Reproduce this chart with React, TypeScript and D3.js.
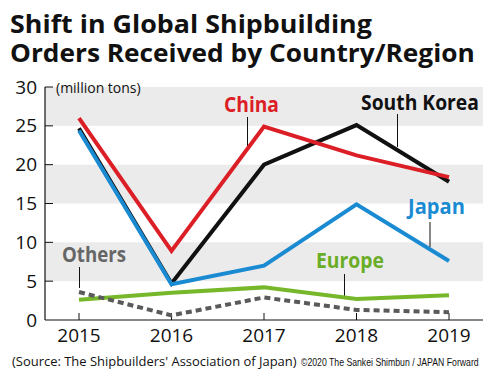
import React, { useLayoutEffect, useRef, useState } from "react";
import * as d3 from "d3";

const years = [2015, 2016, 2017, 2018, 2019];
const china = [26.0, 8.9, 24.9, 21.2, 18.4];
const southKorea = [24.7, 4.7, 20.0, 25.1, 17.8];
const japan = [24.4, 4.6, 7.0, 14.9, 7.6];
const europe = [2.6, 3.5, 4.2, 2.7, 3.2];
const others = [3.6, 0.6, 2.9, 1.3, 1.0];
const yTicks = [0, 5, 10, 15, 20, 25, 30];
const bands = [[5, 10], [15, 20], [25, 30]];

const W = 494;
const H = 377;

function FitText(props: {
  x: number;
  y: number;
  width: number;
  fontSize: number;
  fontFamily?: string;
  fontWeight?: number;
  fill: string;
  children: string;
}) {
  const ref = useRef<SVGTextElement>(null);
  const [sx, setSx] = useState(1);
  useLayoutEffect(() => {
    if (ref.current) {
      const w = ref.current.getComputedTextLength();
      if (w > 0) setSx(props.width / w);
    }
  }, [props.width, props.children]);
  return (
    <text
      ref={ref}
      transform={`translate(${props.x},${props.y}) scale(${sx},1)`}
      fontSize={props.fontSize}
      fontFamily={props.fontFamily}
      fontWeight={props.fontWeight}
      fill={props.fill}
    >
      {props.children}
    </text>
  );
}

export default function App() {
  const x = d3.scaleLinear().domain([2015, 2019]).range([79, 449]);
  const y = d3.scaleLinear().domain([0, 30]).range([320, 87]);
  const plotLeft = 45;
  const plotRight = 483;

  const line = d3
    .line<number>()
    .x((_, i) => x(years[i]))
    .y((d) => y(d));

  const series = [
    { name: "Europe", data: europe, color: "#76b82a", dash: undefined },
    { name: "Others", data: others, color: "#5a5a5a", dash: "6,4" },
    { name: "South Korea", data: southKorea, color: "#111111", dash: undefined },
    { name: "Japan", data: japan, color: "#1a8bd2", dash: undefined },
    { name: "China", data: china, color: "#dc1f26", dash: undefined },
  ];

  const labels = [
    { text: "China", x: 224, y: 112, len: 55, color: "#dc1f26", lx: 247.5, ly1: 117, ly2: 146 },
    { text: "South Korea", x: 361, y: 110, len: 118, color: "#111111", lx: 397.5, ly1: 114, ly2: 147 },
    { text: "Japan", x: 408, y: 214, len: 57, color: "#1a8bd2", lx: 430, ly1: 222, ly2: 247 },
    { text: "Europe", x: 316, y: 268, len: 68, color: "#6aad27", lx: 344.5, ly1: 274, ly2: 296 },
    { text: "Others", x: 62, y: 262, len: 64, color: "#666666", lx: 79.5, ly1: 267, ly2: 288 },
  ];

  const font = "'Open Sans', 'Noto Sans', sans-serif";

  return (
    <svg
      width={W}
      height={H}
      style={{ position: "absolute", left: 0, top: 0, background: "#fff" }}
      fontFamily={font}
    >
      <rect x={0} y={0} width={W} height={H} fill="#fff" />
      <FitText x={10} y={33} width={362} fontSize={25.5} fontWeight={700} fill="#111">
        Shift in Global Shipbuilding
      </FitText>
      <FitText x={10} y={62} width={465} fontSize={25.5} fontWeight={700} fill="#111">
        Orders Received by Country/Region
      </FitText>

      {bands.map(([a, b]) => (
        <rect key={a} x={plotLeft} y={y(b)} width={plotRight - plotLeft} height={y(a) - y(b)} fill="#ebebeb" />
      ))}

      {/* axes */}
      <line x1={plotLeft} x2={plotLeft} y1={y(30)} y2={y(0)} stroke="#111" strokeWidth={1.2} />
      <line x1={plotLeft} x2={plotRight} y1={y(0)} y2={y(0)} stroke="#111" strokeWidth={1.2} />
      {yTicks.map((t) => (
        <g key={t}>
          {t > 0 && <line x1={plotLeft} x2={plotLeft + 8} y1={y(t)} y2={y(t)} stroke="#111" strokeWidth={1} />}
          <text x={37} y={y(t)} dy="0.35em" textAnchor="end" fontSize={19} fill="#111">
            {t}
          </text>
        </g>
      ))}
      {years.map((yr) => (
        <g key={yr}>
          <line x1={x(yr)} x2={x(yr)} y1={y(0)} y2={y(0) - 7} stroke="#111" strokeWidth={1} />
          <text x={x(yr)} y={342} textAnchor="middle" fontSize={19} fill="#111">
            {yr}
          </text>
        </g>
      ))}
      <text x={56} y={93} fontSize={14} fill="#111">(million tons)</text>

      {/* leader lines */}
      {labels.map((l) => (
        <line key={l.text} x1={l.lx} x2={l.lx} y1={l.ly1} y2={l.ly2} stroke="#111" strokeWidth={1} />
      ))}

      {series.map((s) => (
        <path
          key={s.name}
          d={line(s.data) || ""}
          fill="none"
          stroke={s.color}
          strokeWidth={4}
          strokeDasharray={s.dash}
          strokeLinejoin="miter"
        />
      ))}

      {labels.map((l) => (
        <FitText key={l.text} x={l.x} y={l.y} width={l.len} fontSize={21} fontWeight={700} fill={l.color}>
          {l.text}
        </FitText>
      ))}

      <FitText x={12} y={366} width={285} fontSize={12.5} fill="#111">
        (Source: The Shipbuilders' Association of Japan)
      </FitText>
      <FitText x={301} y={366} width={178} fontSize={10} fill="#111" fontFamily="'Liberation Sans', Arial, sans-serif">
        ©2020 The Sankei Shimbun / JAPAN Forward
      </FitText>
    </svg>
  );
}
